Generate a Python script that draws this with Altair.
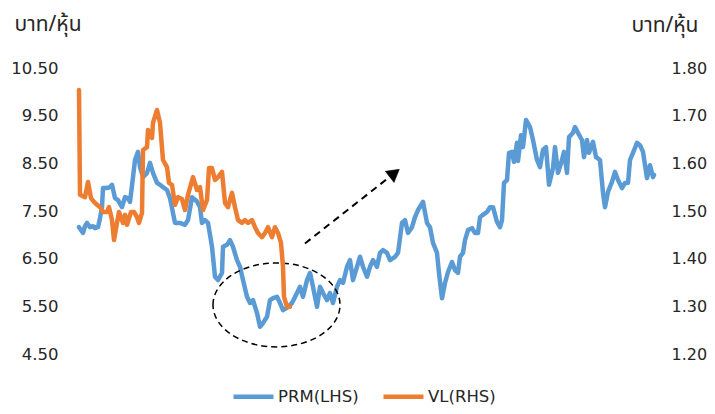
import altair as alt
import pandas as pd

# ---- data ----
prm_day = [0, 2, 4, 6, 8, 11, 14, 16, 19, 21, 23, 24, 28, 31, 33, 36, 39, 41, 43, 46, 49, 51, 54, 56, 59, 61, 64, 68, 71, 74,
           78, 81, 84, 88, 91, 93, 96, 101, 106, 109, 113, 118, 121, 123, 126, 129, 133, 136, 139, 143, 144, 148, 151, 154,
           158, 161, 164, 168, 171, 174, 178, 181, 184, 188, 191, 194, 198, 201, 204, 208, 213, 218, 221, 224, 228, 231,
           234, 238, 241, 244, 248, 251, 254, 258, 261, 264, 268, 271, 274, 278, 281, 284, 288, 291, 294, 298, 301, 304,
           308, 311, 316, 319, 323, 326, 329, 333, 336, 339, 344, 348, 351, 354, 358, 360, 363, 366, 369, 373, 376, 379,
           381, 384, 386, 389, 393, 396, 399, 401, 404, 408, 411, 414, 418, 421, 423, 425, 428, 430, 433, 435, 438, 439,
           442, 444, 447, 451, 454, 458, 461, 464, 467, 470, 474, 476, 479, 483, 485, 488, 490, 494, 496, 499, 503, 505,
           508, 510, 514, 517, 521, 524, 526, 529, 533, 536, 539, 543, 546, 549, 551, 554, 558, 561, 564, 568, 571, 574, 575]
prm_price = [7.16, 7.10, 7.04, 7.18, 7.25, 7.16, 7.18, 7.14, 7.16, 7.35, 7.58, 7.98, 7.98, 8.00, 8.05, 7.77, 7.73, 7.65, 7.58,
             7.79, 7.77, 7.69, 8.21, 8.57, 8.74, 8.42, 8.21, 8.30, 8.51, 8.30, 8.09, 8.05, 8.00, 7.94, 7.77, 7.56, 7.25,
             7.25, 7.21, 7.31, 7.79, 7.70, 7.58, 7.25, 7.31, 7.25, 6.75, 6.12, 6.05, 6.20, 6.75, 6.79, 6.89, 6.75, 6.47,
             6.33, 6.05, 5.70, 5.57, 5.63, 5.36, 5.07, 5.15, 5.28, 5.63, 5.67, 5.70, 5.57, 5.42, 5.47, 5.57, 5.78, 5.91,
             5.70, 6.05, 6.20, 5.91, 5.49, 5.91, 5.78, 5.63, 5.78, 5.57, 5.91, 6.05, 5.99, 6.33, 6.47, 6.05, 6.33, 6.54,
             6.33, 6.12, 6.33, 6.47, 6.33, 6.62, 6.68, 6.62, 6.47, 6.54, 6.62, 7.25, 7.31, 7.04, 7.16, 7.37, 7.52, 7.69,
             7.25, 7.16, 6.83, 6.62, 6.20, 5.67, 5.99, 6.22, 6.43, 6.26, 6.20, 6.54, 6.62, 6.89, 7.10, 7.14, 7.04, 7.04,
             7.37, 7.42, 7.48, 7.58, 7.58, 7.27, 7.16, 7.31, 8.09, 8.15, 8.72, 8.74, 8.53, 8.93, 8.55, 9.09, 8.84, 9.41,
             9.26, 8.99, 8.57, 8.42, 8.78, 8.84, 8.05, 8.40, 8.84, 8.30, 8.57, 8.74, 8.30, 9.05, 9.14, 9.26, 9.14, 8.99,
             8.63, 8.99, 8.72, 8.95, 8.63, 8.57, 7.88, 7.58, 7.90, 8.11, 8.32, 8.15, 7.98, 8.09, 8.09, 8.57, 8.72, 8.93,
             8.88, 8.74, 8.19, 8.46, 8.21, 8.26]

vl_day = [0, 1, 6, 9, 12, 15, 18, 22, 24, 28, 30, 33, 35, 38, 40, 44, 46, 48, 52, 55, 58, 60, 63, 64, 68, 69, 73, 74, 78,
          81, 84, 88, 90, 93, 96, 99, 103, 106, 109, 114, 118, 121, 124, 128, 130, 133, 136, 139, 143, 146, 149, 153,
          156, 159, 163, 166, 169, 173, 176, 179, 183, 186, 189, 193, 196, 199, 202, 204, 205, 208, 211]
vl_price = [1.754, 1.534, 1.529, 1.561, 1.527, 1.519, 1.513, 1.506, 1.498, 1.498, 1.508, 1.481, 1.439, 1.475, 1.498,
            1.475, 1.492, 1.471, 1.498, 1.498, 1.487, 1.475, 1.496, 1.628, 1.634, 1.670, 1.653, 1.685, 1.712, 1.685,
            1.607, 1.592, 1.559, 1.555, 1.513, 1.529, 1.525, 1.502, 1.534, 1.571, 1.544, 1.550, 1.502, 1.523, 1.590,
            1.590, 1.565, 1.571, 1.582, 1.517, 1.508, 1.538, 1.508, 1.481, 1.475, 1.481, 1.475, 1.481, 1.466, 1.454,
            1.445, 1.454, 1.466, 1.445, 1.466, 1.454, 1.433, 1.383, 1.320, 1.299, 1.299]

series_names = ["PRM(LHS)", "VL(RHS)"]
series_colors = ["#5B9BD5", "#ED7D31"]
left_ticks = [4.5, 5.5, 6.5, 7.5, 8.5, 9.5, 10.5]
right_ticks = [1.2, 1.3, 1.4, 1.5, 1.6, 1.7, 1.8]
unit_title = "บาท/หุ้น"

# annotation anchors (in data units of the left axis)
ellipse_day = [197.5]
ellipse_val = [5.53]
arrow_day = [226]
arrow_val = [6.82]
arrow_day2 = [315.5]
arrow_val2 = [8.295]

prm_df = pd.DataFrame({"day": prm_day, "price": prm_price, "series": series_names[0]})
vl_df = pd.DataFrame({"day": vl_day, "price": vl_price, "series": series_names[1]})
ell_df = pd.DataFrame({"day": ellipse_day, "price": ellipse_val})
arr_df = pd.DataFrame({"day": arrow_day, "price": arrow_val, "day2": arrow_day2, "price2": arrow_val2})

FONT = "DejaVu Sans"
TFONT = "Tahoma, 'Noto Sans Thai', 'DejaVu Sans', sans-serif"
TXT = "#262626"

xs = alt.Scale(domain=[0, 575], nice=False, zero=False)
ls = alt.Scale(domain=[4.5, 10.5], nice=False, zero=False)
rs = alt.Scale(domain=[1.2, 1.8], nice=False, zero=False)

color = alt.Color(
    "series:N",
    scale=alt.Scale(domain=series_names, range=series_colors),
    legend=alt.Legend(
        title=None, orient="none", legendX=152, legendY=306, direction="horizontal", columns=2,
        symbolType="stroke", symbolSize=1600, symbolStrokeWidth=4.5, labelFontSize=16.5, labelFont=FONT,
        labelColor=TXT, labelOffset=2, columnPadding=15, padding=0, labelLimit=300,
    ),
)

left_axis = alt.Axis(
    values=left_ticks, format=".2f", grid=False, domain=False, ticks=False, tickSize=0,
    labelFontSize=16.5, labelFont=FONT, labelColor=TXT, labelPadding=21,
    title=unit_title, titleAngle=0, titleAlign="left", titleBaseline="middle", titleX=-65, titleY=-44,
    titleFont=TFONT, titleFontSize=21, titleFontWeight="normal", titleColor=TXT,
)
right_axis = alt.Axis(
    orient="right", values=right_ticks, format=".2f", grid=False, domain=False, ticks=False, tickSize=0,
    labelFontSize=16, labelFont=FONT, labelColor=TXT, labelPadding=17,
    title=unit_title, titleAngle=0, titleAlign="right", titleBaseline="middle", titleX=44, titleY=-43,
    titleFont=TFONT, titleFontSize=21, titleFontWeight="normal", titleColor=TXT,
)

prm_line = alt.Chart(prm_df).mark_line(strokeWidth=4.5, strokeJoin="round", strokeCap="round").encode(
    x=alt.X("day:Q", scale=xs, axis=None),
    y=alt.Y("price:Q", scale=ls, axis=left_axis),
    color=color,
)

ellipse = alt.Chart(ell_df).mark_point(
    shape="M -1 0 A 1 0.661 0 1 1 1 0 A 1 0.661 0 1 1 -1 0 Z",
    size=16129, filled=False, stroke="black", strokeWidth=1.5, strokeDash=[6, 4], opacity=1,
).encode(
    x=alt.X("day:Q", scale=xs, axis=None),
    y=alt.Y("price:Q", scale=ls, axis=left_axis),
)

arrow_line = alt.Chart(arr_df).mark_rule(stroke="black", strokeWidth=2, strokeDash=[7, 5]).encode(
    x=alt.X("day:Q", scale=xs, axis=None),
    y=alt.Y("price:Q", scale=ls, axis=left_axis),
    x2="day2:Q",
    y2="price2:Q",
)

arrow_head = alt.Chart(arr_df).mark_point(
    shape="triangle-up", size=200, filled=True, fill="black", stroke="black", strokeWidth=0.5, angle=52, opacity=1,
).encode(
    x=alt.X("day2:Q", scale=xs, axis=None),
    y=alt.Y("price2:Q", scale=ls, axis=left_axis),
)

vl_line = alt.Chart(vl_df).mark_line(strokeWidth=4.5, strokeJoin="round", strokeCap="round").encode(
    x=alt.X("day:Q", scale=xs, axis=None),
    y=alt.Y("price:Q", scale=rs, axis=right_axis),
    color=color,
)

left_group = alt.layer(prm_line, ellipse, arrow_line, arrow_head)

chart = alt.layer(left_group, vl_line).resolve_scale(y="independent").properties(
    width=575, height=286,
    background="white",
    autosize=alt.AutoSizeParams(type="none"),
    padding={"left": 71, "top": 60, "right": 53, "bottom": 52},
).configure_view(stroke=None, strokeWidth=0)

chart.save("out.html", embed_options={"renderer": "svg", "actions": False})
